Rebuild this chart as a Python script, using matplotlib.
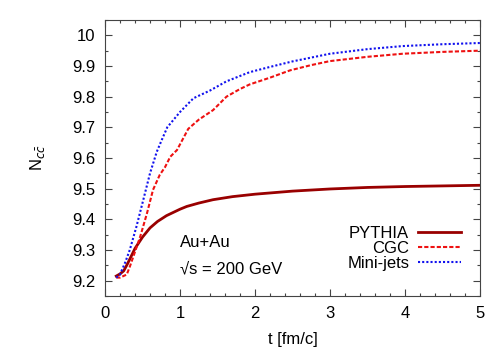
import matplotlib.pyplot as plt
from matplotlib.ticker import MultipleLocator

t_pythia = [0.15, 0.2, 0.25, 0.3, 0.4, 0.5, 0.6, 0.7, 0.82, 1.0, 1.09, 1.25, 1.44, 1.7, 2.0, 2.5, 3.0, 3.5, 4.0, 4.5, 5.0]
n_pythia = [9.215, 9.222, 9.232, 9.255, 9.305, 9.342, 9.372, 9.393, 9.412, 9.433, 9.442, 9.453, 9.464, 9.474, 9.482, 9.492, 9.499, 9.504, 9.507, 9.509, 9.511]

t_cgc = [0.15, 0.2, 0.29, 0.33, 0.38, 0.47, 0.56, 0.64, 0.73, 0.8, 0.87, 0.96, 1.11, 1.25, 1.44, 1.62, 1.8, 1.93, 2.2, 2.47, 2.75, 3.0, 3.5, 3.97, 4.5, 5.0]
n_cgc = [9.21, 9.21, 9.22, 9.245, 9.28, 9.344, 9.42, 9.496, 9.545, 9.57, 9.604, 9.626, 9.695, 9.725, 9.756, 9.80, 9.825, 9.84, 9.862, 9.886, 9.903, 9.916, 9.93, 9.94, 9.946, 9.95]

t_mini = [0.15, 0.2, 0.27, 0.33, 0.42, 0.51, 0.6, 0.69, 0.75, 0.83, 1.0, 1.18, 1.4, 1.62, 1.93, 2.2, 2.5, 3.0, 3.5, 3.97, 4.5, 5.0]
n_mini = [9.21, 9.22, 9.26, 9.30, 9.377, 9.463, 9.55, 9.62, 9.655, 9.70, 9.75, 9.795, 9.82, 9.85, 9.88, 9.897, 9.915, 9.94, 9.955, 9.965, 9.971, 9.975]

plt.rcParams['font.family'] = ['Liberation Sans', 'DejaVu Sans']
plt.rcParams['font.size'] = 12

fig = plt.figure(figsize=(4.98, 3.49), dpi=100)
ax = fig.add_axes([105 / 498, 1 - 296 / 349, 375 / 498, 276 / 349])

ax.plot(t_pythia, n_pythia, color='#990000', lw=2, label='PYTHIA')
ax.plot(t_cgc, n_cgc, color='#ee1111', lw=1.5, ls=(0, (2, 1)), label='CGC')
ax.plot(t_mini, n_mini, color='#1111ee', lw=1.5, ls=(0, (1, 1)), label='Mini-jets')

ax.set_xlim(0, 5)
ax.set_ylim(9.15, 10.05)
ax.xaxis.set_major_locator(MultipleLocator(1))
ax.xaxis.set_minor_locator(MultipleLocator(0.2))
ax.yaxis.set_major_locator(MultipleLocator(0.1))
ax.yaxis.set_minor_locator(MultipleLocator(0.05))
ax.yaxis.set_major_formatter(lambda v, p: '%g' % round(v, 2))
ax.tick_params(which='both', direction='in', top=True, right=True, width=0.8, color='#444444')
ax.tick_params(which='major', length=5, pad=7)
ax.tick_params(which='minor', length=2.5)
for s in ax.spines.values():
    s.set_color('#444444')

ax.set_xlabel('t [fm/c]', labelpad=8)
ax.set_ylabel(r'N$_{c\bar{c}}$', labelpad=18)

ax.text(1.0, 9.325, 'Au+Au', fontsize=12, va='center')
ax.text(1.0, 9.238, '√s = 200 GeV', fontsize=12, va='center')

ax.legend(loc='lower right', bbox_to_anchor=(0.98, 0.05), frameon=False, markerfirst=False,
          handlelength=2.6, labelspacing=0.0, handletextpad=0.5, borderpad=0.2)

fig.savefig('out.png', dpi=100)
